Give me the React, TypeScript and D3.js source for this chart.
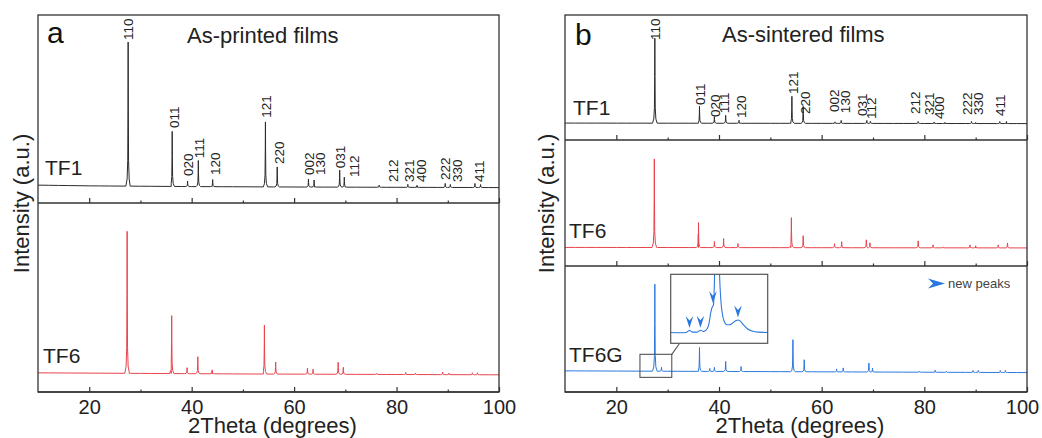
import React, { useEffect, useRef } from 'react';
import * as d3 from 'd3';

const W = 1042;
const H = 438;
const FONT = '"Liberation Sans", Arial, Helvetica, sans-serif';

// 2θ ticks shared by both panels
const majorTicks = [20, 40, 60, 80, 100];
const minorTicks = [30, 50, 70, 90];

// peaks: [2θ (deg), intensity in % of the 110 reflection]
const printedTF1: [number, number][] = [
    [27.6, 100], [36.2, 38.2], [39.2, 3.8], [41.3, 18.1], [44.1, 4.9], [54.4, 45.1], [56.7, 13.9],
    [62.8, 5.6], [63.9, 4.9], [68.9, 11.8], [69.8, 6.9], [76.6, 1.4], [82.2, 2.1], [84.0, 1.4],
    [89.5, 2.8], [90.5, 2.1], [95.3, 2.8], [96.4, 2.1],
];
const printedTF6: [number, number][] = [
    [27.4, 100], [36.1, 40.8], [39.1, 4.2], [41.2, 12], [44.0, 2.8], [54.2, 34.5], [56.4, 8.5],
    [62.6, 4.2], [63.7, 3.5], [68.6, 8.5], [69.6, 4.9], [76.1, 0.7], [81.8, 1.4], [83.7, 1.1],
    [89.0, 1.8], [90.2, 1.1], [94.8, 1.4], [95.8, 1.4],
];
const sinteredTF1: [number, number][] = [
    [27.5, 100], [36.2, 20], [39.1, 7.8], [41.3, 9.4], [43.9, 3.5], [54.2, 31.8], [56.4, 20],
    [62.6, 1.8], [63.8, 3.5], [68.8, 3.5], [69.5, 2.4], [78.8, 2.4], [81.9, 1.8], [84.0, 1.2],
    [89.2, 2.4], [90.0, 1.2], [94.7, 2.4], [96.0, 2.4],
];
const sinteredTF6: [number, number][] = [
    [27.4, 100], [36.0, 28.2], [39.1, 6.8], [40.9, 10.2], [43.7, 4.5], [54.1, 33.9], [56.4, 13.5],
    [62.5, 4.5], [63.9, 6.8], [68.7, 9], [69.4, 5.6], [78.8, 7.9], [81.7, 3.4], [83.6, 1.1],
    [88.9, 3.4], [90.0, 2.3], [94.4, 3.4], [96.2, 5.6],
];
const sinteredTF6G: [number, number][] = [
    [27.5, 100], [28.8, 4.6], [36.2, 27.6], [38.2, 3.4], [39.1, 4.6], [41.3, 11.5], [44.3, 5.7],
    [54.4, 36.8], [56.6, 13.8], [62.9, 3.4], [64.2, 4.6], [69.2, 10.3], [69.9, 4.6], [79.0, 1.1],
    [82.1, 2.3], [84.3, 1.1], [89.5, 2.3], [90.5, 2.3], [94.8, 2.3], [95.8, 2.3],
];

// background level [2θ, %]
const bgPrintedTF1: [number, number][] = [[10, 1.3], [20, 0.8], [40, 0.3], [60, 0], [100, -0.4]];
const bgPrintedTF6: [number, number][] = [[10, 0.8], [50, 0], [100, -0.6]];
const bgSinteredTF1: [number, number][] = [[10, 0.3], [100, -0.3]];
const bgSinteredTF6: [number, number][] = [[10, 0.3], [100, -0.3]];
const bgSinteredTF6G: [number, number][] = [[10, 1.0], [100, -1.0]];

// hkl labels with [label 2θ, label start level in %]
const hkl = ['110', '011', '020', '111', '120', '121', '220', '002', '130', '031', '112', '212', '321', '400', '222', '330', '411'];
const hklPrinted: [number, number][] = [
    [27.7, 102], [36.55, 41], [39.3, 7.6], [41.5, 20], [44.55, 8.3], [54.65, 48], [57.05, 16],
    [62.9, 8.3], [65.05, 8.3], [69.1, 13], [71.7, 7], [79.3, 3.5], [82.4, 3.5], [84.8, 3.5],
    [89.5, 4.9], [91.8, 3.5], [96.1, 3.5],
];
const hklSintered: [number, number][] = [
    [27.5, 98], [36.3, 21.5], [39.2, 7.4], [41.0, 12], [44.3, 6.2], [54.4, 34.5], [56.9, 11],
    [62.4, 13.3], [64.5, 12], [67.9, 8.6], [69.6, 5], [78.2, 11], [80.9, 9.8], [82.9, 5],
    [88.3, 9.8], [90.5, 9.8], [94.7, 8.6],
];

// zoomed TF6G trace for the inset [2θ, %]
const insetRange = [24.6, 30.8];
const insetTrace: [number, number][] = [
    [24.6, 0.3], [25.2, 0.2], [25.6, 0.3], [25.8, 1.0], [26.0, 0.4], [26.3, 0.4], [26.5, 1.1],
    [26.7, 0.6], [26.95, 1.8], [27.05, 3.5], [27.15, 7], [27.25, 9.2], [27.33, 10], [27.4, 20],
    [27.45, 60], [27.5, 100], [27.6, 60], [27.7, 25], [27.8, 12], [27.9, 7], [28.0, 4.5],
    [28.2, 3.0], [28.35, 3.0], [28.55, 3.6], [28.75, 4.4], [28.9, 4.7], [29.05, 4.3],
    [29.25, 3.0], [29.5, 1.6], [29.8, 0.8], [30.2, 0.4], [30.8, 0.3],
];
const newPeaks = [25.8, 26.5, 27.3, 28.9];

// shape of a single reflection: [Δ2θ, fraction of height]
const profile: [number, number][] = [
    [-0.45, 0], [-0.2, 0.05], [-0.08, 0.18], [-0.03, 0.55], [0, 1],
    [0.03, 0.55], [0.08, 0.18], [0.2, 0.05], [0.45, 0],
];

const BLACK = '#2b2b2b';
const RED = '#e8434b';
const BLUE = '#2a78de';
const FRAME = '#333';

function tracePoints(peaks: [number, number][], bg: [number, number][]) {
    const bgAt = d3.scaleLinear().domain(bg.map((d) => d[0])).range(bg.map((d) => d[1])).clamp(true);
    const pts: [number, number][] = [];
    for (let t = 10; t <= 100; t += 2) pts.push([t, bgAt(t)]);
    peaks.forEach(([p, h]) => {
        profile.forEach(([dx, f]) => pts.push([p + dx, bgAt(p + dx) + f * h]));
    });
    return pts.filter((d) => d[0] >= 10 && d[0] <= 100).sort((a, b) => a[0] - b[0]);
}

const panels = [
    {
        left: 38, right: 499, top: 15, bottom: 392,
        letter: 'a', letterX: 47, letterY: 43,
        title: 'As-printed films', titleX: 187, titleY: 43,
        yLabelX: 28.5, xTitleDx: 4, lastTickDx: 0,
        labels: hklPrinted,
        rows: [
            { top: 15, bottom: 203, domain: [-11.1, 119.4], peaks: printedTF1, bg: bgPrintedTF1, color: BLACK, name: 'TF1', nameX: 45, nameY: 175, labelled: true },
            { top: 203, bottom: 392, domain: [-12.7, 120.4], peaks: printedTF6, bg: bgPrintedTF6, color: RED, name: 'TF6', nameX: 43, nameY: 363, labelled: false },
        ],
    },
    {
        left: 565, right: 1027, top: 15, bottom: 392,
        letter: 'b', letterX: 575, letterY: 45,
        title: 'As-sintered films', titleX: 722, titleY: 42,
        yLabelX: 553.5, xTitleDx: 4, lastTickDx: -5,
        labels: hklSintered,
        rows: [
            { top: 15, bottom: 140, domain: [-19.6, 127.4], peaks: sinteredTF1, bg: bgSinteredTF1, color: BLACK, name: 'TF1', nameX: 573, nameY: 115, labelled: true },
            { top: 140, bottom: 266, domain: [-20.7, 121.6], peaks: sinteredTF6, bg: bgSinteredTF6, color: RED, name: 'TF6', nameX: 569, nameY: 238, labelled: false },
            { top: 266, bottom: 392, domain: [-23.3, 121.5], peaks: sinteredTF6G, bg: bgSinteredTF6G, color: BLUE, name: 'TF6G', nameX: 569, nameY: 362, labelled: false },
        ],
    },
];

function place(tx: number, ty: number, angle: number) {
    return `translate(${tx},${ty}) rotate(${angle})`;
}

export default function App() {
    const ref = useRef<SVGSVGElement>(null);

    useEffect(() => {
        const svg = d3.select(ref.current);
        svg.selectAll('*').remove();

        svg.append('rect').attr('width', W).attr('height', H).attr('fill', '#fff');

        panels.forEach((p, pi) => {
            const g = svg.append('g');
            const x = d3.scaleLinear().domain([10, 100]).range([p.left, p.right]);
            let tf6gY: d3.ScaleLinear<number, number> | null = null;

            p.rows.forEach((row) => {
                const y = d3.scaleLinear().domain(row.domain).range([row.bottom, row.top]);
                if (row.name === 'TF6G') tf6gY = y;
                const line = d3
                    .line<[number, number]>()
                    .x((d) => x(d[0]))
                    .y((d) => y(d[1]));
                g.append('path')
                    .attr('d', line(tracePoints(row.peaks, row.bg)))
                    .attr('fill', 'none')
                    .attr('stroke', row.color)
                    .attr('stroke-width', 1)
                    .attr('stroke-linejoin', 'round');

                g.append('text')
                    .attr('x', row.nameX)
                    .attr('y', row.nameY)
                    .attr('font-size', 21)
                    .attr('font-family', FONT)
                    .attr('fill', '#222')
                    .text(row.name);

                if (row.labelled) {
                    g.selectAll(null)
                        .data(p.labels)
                        .enter()
                        .append('text')
                        .attr('transform', (d) => `translate(${x(d[0])},${y(d[1])}) rotate(-90)`)
                        .attr('dy', '0.35em')
                        .attr('font-size', 13.5)
                        .attr('font-family', FONT)
                        .attr('fill', '#222')
                        .text((d, i) => hkl[i]);
                }

                // inward ticks on the lower edge of each strip
                [
                    { vals: majorTicks, size: 5 },
                    { vals: minorTicks, size: 2.5 },
                ].forEach((t) => {
                    g.append('g')
                        .attr('transform', `translate(0,${row.bottom})`)
                        .call(d3.axisTop(x).tickValues(t.vals).tickSize(t.size).tickSizeOuter(0).tickFormat(() => ''))
                        .call((a) => a.select('.domain').remove())
                        .selectAll('line')
                        .attr('stroke', FRAME)
                        .attr('stroke-width', 1.2);
                });

                g.append('line')
                    .attr('x1', p.left)
                    .attr('x2', p.right)
                    .attr('y1', row.bottom)
                    .attr('y2', row.bottom)
                    .attr('stroke', FRAME)
                    .attr('stroke-width', 1.3);
            });

            g.append('rect')
                .attr('x', p.left)
                .attr('y', p.top)
                .attr('width', p.right - p.left)
                .attr('height', p.bottom - p.top)
                .attr('fill', 'none')
                .attr('stroke', FRAME)
                .attr('stroke-width', 1.3);

            // tick labels
            g.append('g')
                .attr('transform', `translate(0,${p.bottom})`)
                .call(d3.axisBottom(x).tickValues(majorTicks).tickSize(0).tickPadding(7.5))
                .call((a) => a.select('.domain').remove())
                .attr('font-size', 20)
                .attr('font-family', FONT)
                .selectAll('text')
                .attr('fill', '#222')
                .attr('dx', (d) => (d === 100 ? p.lastTickDx : 0));

            g.append('text')
                .attr('x', (p.left + p.right) / 2 + p.xTitleDx)
                .attr('y', 433)
                .attr('text-anchor', 'middle')
                .attr('font-size', 22)
                .attr('font-family', FONT)
                .attr('fill', '#222')
                .text('2Theta (degrees)');

            g.append('text')
                .attr('transform', `translate(${p.yLabelX},${(p.top + p.bottom) / 2}) rotate(-90)`)
                .attr('text-anchor', 'middle')
                .attr('font-size', 22)
                .attr('font-family', FONT)
                .attr('fill', '#222')
                .text('Intensity (a.u.)');

            g.append('text')
                .attr('x', p.letterX)
                .attr('y', p.letterY)
                .attr('font-size', 30)
                .attr('font-family', FONT)
                .attr('fill', '#111')
                .text(p.letter);

            g.append('text')
                .attr('x', p.titleX)
                .attr('y', p.titleY)
                .attr('font-size', 22)
                .attr('font-family', FONT)
                .attr('fill', '#222')
                .text(p.title);

            if (pi === 1 && tf6gY) {
                const yM = tf6gY as d3.ScaleLinear<number, number>;
                const box = { x0: 670.7, x1: 767.7, y0: 274.3, y1: 343.3 };
                const xi = d3.scaleLinear().domain(insetRange).range([box.x0, box.x1]);
                const yi = d3.scaleLinear().domain([0, 100]).range([333.3, 333.3 - 283]);

                // region marker on the main trace
                g.append('rect')
                    .attr('x', x(insetRange[0]))
                    .attr('y', yM(20))
                    .attr('width', x(insetRange[1]) - x(insetRange[0]))
                    .attr('height', yM(-6.5) - yM(20))
                    .attr('fill', 'none')
                    .attr('stroke', '#555')
                    .attr('stroke-width', 1.1);
                g.append('line')
                    .attr('x1', x(insetRange[1]))
                    .attr('y1', yM(20))
                    .attr('x2', box.x0 + 9)
                    .attr('y2', box.y1)
                    .attr('stroke', '#555')
                    .attr('stroke-width', 1.1);

                g.append('clipPath')
                    .attr('id', 'inset-clip')
                    .append('rect')
                    .attr('x', box.x0)
                    .attr('y', box.y0)
                    .attr('width', box.x1 - box.x0)
                    .attr('height', box.y1 - box.y0);
                g.append('rect')
                    .attr('x', box.x0)
                    .attr('y', box.y0)
                    .attr('width', box.x1 - box.x0)
                    .attr('height', box.y1 - box.y0)
                    .attr('fill', '#fff');
                const il = d3
                    .line<[number, number]>()
                    .x((d) => xi(d[0]))
                    .y((d) => yi(d[1]))
                    .curve(d3.curveMonotoneX);
                g.append('path')
                    .attr('d', il(insetTrace))
                    .attr('clip-path', 'url(#inset-clip)')
                    .attr('fill', 'none')
                    .attr('stroke', BLUE)
                    .attr('stroke-width', 1.1);
                g.append('rect')
                    .attr('x', box.x0)
                    .attr('y', box.y0)
                    .attr('width', box.x1 - box.x0)
                    .attr('height', box.y1 - box.y0)
                    .attr('fill', 'none')
                    .attr('stroke', '#555')
                    .attr('stroke-width', 1.2);

                const traceAt = d3.scaleLinear().domain(insetTrace.map((d) => d[0])).range(insetTrace.map((d) => d[1]));
                g.selectAll(null)
                    .data(newPeaks)
                    .enter()
                    .append('path')
                    .attr('transform', (d) => place(xi(d), yi(traceAt(d)) - 2.5, 90))
                    .attr('d', 'M0,0L-12,-3.8L-7.5,0L-12,3.8Z')
                    .attr('fill', BLUE);

                // legend
                g.append('path')
                    .attr('transform', place(945, 283.5, 0))
                    .attr('d', 'M0,0L-17,-5L-12,0L-17,5Z')
                    .attr('fill', BLUE);
                g.append('text')
                    .attr('x', 948)
                    .attr('y', 287.5)
                    .attr('font-size', 13)
                    .attr('font-family', FONT)
                    .attr('fill', '#444')
                    .text('new peaks');
            }
        });
    }, []);

    return <svg ref={ref} width={W} height={H} style={{ position: 'absolute', left: 0, top: 0 }} />;
}
